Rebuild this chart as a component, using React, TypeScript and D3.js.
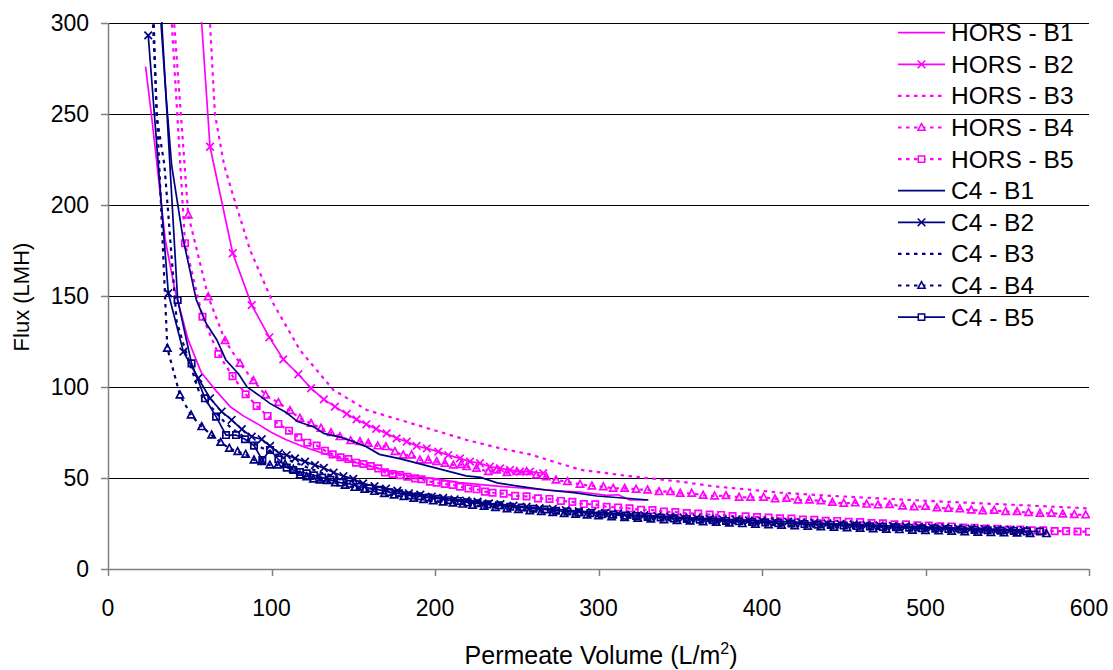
import React from 'react';
import * as d3 from 'd3';

// ---------- data (Permeate Volume L/m2, Flux LMH) ----------
const horsB1V = [23, 26.5, 30, 35, 41, 49, 57, 66, 75, 83, 91, 100, 109, 120, 130, 143, 158, 172, 187, 199, 215, 238, 260, 275, 289, 305, 312, 319, 330];
const horsB1F = [276, 250, 222, 181, 153, 126, 108, 98, 89, 84, 80, 75, 71, 67, 64, 60.5, 57, 53.5, 50.7, 49.8, 47.5, 45.5, 44, 43, 42.3, 40.5, 40.8, 38, 37.9];

const horsB2V = [55, 62.4, 76.3, 87.9, 98.7, 107.2, 116.4, 124.2, 132, 138.8, 146, 152, 158, 164, 170.4, 176.5, 182.7, 188.8, 195, 202, 208.1, 215.3, 221.4, 227.5, 233.6, 239.8, 245.9, 252, 258.1, 266.2];
const horsB2F = [330, 232, 173.5, 145, 127.3, 115.2, 107, 99.3, 93.2, 89.2, 85.2, 82.2, 79.5, 77, 74.5, 71.8, 70, 67.6, 66.3, 64.5, 62.6, 60.8, 59, 58.1, 56.2, 55.3, 54.4, 53.5, 53.5, 52.6];

const horsB3V = [60.5, 62.4, 65.4, 71, 76.6, 87, 101, 117.4, 137.8, 158.2, 178.6, 199, 219.4, 240, 258, 289, 319, 350, 370, 411, 440, 472, 500, 533, 565, 600];
const horsB3F = [330, 300, 250, 222, 205, 175, 146, 120.3, 98.4, 87.4, 81.9, 76.4, 70.9, 66.3, 63, 54.5, 51, 48, 45.5, 42, 40.3, 38.8, 37.5, 36.1, 34.8, 33.3];

const horsB4V = [38, 49.1, 61.3, 71.6, 80.7, 88.9, 96.4, 104.2, 111.3, 117.4, 124.2, 130.3, 136.4, 141.9, 148.4, 154.1, 159.2, 165, 170, 175.5, 180.6, 185.7, 190.8, 195.9, 201, 206.1, 211.2, 216, 219.4, 225.4, 232.6, 237.7, 244, 250, 256, 262, 268, 274, 281, 288.7, 296, 303, 309, 316, 323, 330, 337, 344, 350, 357, 364, 371, 378, 386, 393, 401, 408, 415, 422, 429, 436, 443, 450, 457, 464, 471, 478, 486, 493, 500, 507, 514, 521, 528, 535, 542, 549, 556, 563, 570, 577, 584, 591, 598];
const horsB4F = [330, 194.5, 149.6, 125.5, 113, 103.5, 95.6, 91.4, 87, 82.8, 80, 77.3, 74.9, 72.7, 70.5, 70, 69.1, 67.6, 67.2, 64.5, 62.6, 62.6, 59.9, 59.9, 59, 58.1, 57.1, 57.4, 56.2, 55.3, 53.5, 54.4, 53, 53.5, 53.5, 51.6, 50.7, 48.9, 48, 46.5, 45.6, 45.2, 44.3, 44.3, 43.8, 43.4, 42.5, 42.5, 41.6, 41.6, 40.5, 40.1, 40.3, 39.4, 39.4, 39.4, 38.5, 38.8, 37.9, 37.9, 37.5, 36.6, 36.1, 36.3, 35.6, 35.2, 35.4, 34.6, 34.2, 34.4, 33.6, 33.3, 33, 32.4, 32, 32.2, 31.5, 31.5, 31, 30.6, 30.6, 30.2, 29.9, 29.7];

const horsB5V = [37, 47.1, 57.8, 67.5, 76.2, 84.2, 90.9, 97.6, 104.2, 110.7, 116.4, 121.9, 127.6, 132.7, 137.4, 142.2, 147, 151.7, 156.2, 160.7, 165.3, 169.4, 174.1, 178.6, 183.1, 187.8, 191.8, 197, 201, 206, 210.8, 215.3, 220.4, 225.5, 230.6, 235.2, 242, 249, 256, 263, 270, 277, 284, 291, 298, 305, 312, 319, 326, 333, 340, 347, 354, 361, 368, 375, 382, 390, 397, 404, 411, 418, 425, 432, 439, 446, 453, 460, 467, 474, 481, 488, 495, 502, 509, 516, 523, 530, 537, 544, 551, 558, 565, 572, 579, 586, 593, 600];
const horsB5F = [330, 179, 138.6, 118.1, 106, 96, 89.6, 84.1, 79.7, 76, 72.4, 69.4, 67.8, 65, 63, 61.4, 60.4, 58.4, 57.7, 56.6, 55.3, 53.1, 52.2, 51.6, 50.7, 49.8, 49.3, 48, 47.4, 46.7, 46.2, 45.2, 44.3, 43.8, 42.5, 41.9, 41.4, 40.2, 39.9, 38.8, 38.5, 37.4, 36.9, 35.7, 35.5, 34.2, 33.8, 33.3, 32.5, 32.4, 31.5, 31.3, 30.7, 30.4, 29.9, 29.7, 29.1, 28.9, 28.5, 28.3, 27.8, 27.7, 27.2, 27, 26.5, 26.4, 25.9, 25.8, 25.2, 25.1, 24.5, 24.5, 24, 23.9, 23.4, 23.3, 22.8, 22.7, 22.2, 22.1, 21.7, 21.7, 21.2, 21.2, 20.8, 20.8, 20.6, 20.5];

const c4B1V = [32.4, 35.5, 38.9, 46, 54, 60, 66.5, 72, 80, 85, 93, 99, 109, 116, 126, 132, 142, 150, 158, 166, 179, 199, 219, 228, 238, 255, 268, 285, 299, 315, 330.5];
const c4B1F = [300, 260, 222, 181, 148, 135, 126, 115, 107, 100, 95, 91, 86, 81, 78, 74.5, 72.5, 70, 67.2, 63, 60.5, 55.8, 51.2, 50.3, 47.3, 45, 43.4, 42, 40.1, 39, 37.9];

const c4B2V = [24.6, 36.9, 46.1, 55.2, 62.4, 69.5, 75.6, 81.8, 87.9, 94, 99.1, 104.6, 109.3, 114.4, 120.5, 126.6, 132, 138, 144, 150, 156, 163, 170, 177, 184, 191, 198, 205, 212, 219, 226, 233, 240, 248, 256, 264, 272, 280, 288, 296, 304, 312, 320, 328, 336, 344, 352, 360, 368, 376, 384, 392, 400, 408, 416, 424, 432, 440, 448, 456, 464, 472, 480, 488, 496, 504, 512, 520, 528, 536, 544, 552, 560];
const c4B2F = [293.2, 151.5, 119.4, 104.8, 93.8, 86.5, 81.9, 76.8, 72.7, 71.3, 67.6, 63.6, 62.6, 60.8, 59, 57.1, 55.5, 53, 51, 49.5, 47, 45.5, 44.2, 43, 41.6, 40.8, 39.8, 39, 38.3, 37.6, 37, 36, 35.6, 34.8, 34.2, 33.4, 33, 32.3, 31.8, 31.2, 30.8, 30.4, 29.8, 29.6, 29.1, 28.8, 28.3, 28, 27.7, 27.3, 27, 26.7, 26.5, 26.1, 26, 25.6, 25.4, 25, 24.8, 24.5, 24.2, 24, 23.7, 23.5, 23.2, 23, 22.8, 22.5, 22.3, 22.1, 21.8, 21.6, 21.4];

const c4B3V = [27, 29.7, 34.5, 42, 46, 56, 64, 72, 80, 90, 100, 110, 120, 130, 140, 150, 165, 180, 200, 220, 240, 260, 280, 300, 320, 340, 360, 380, 400, 420, 440, 460, 480, 500, 520, 540, 560];
const c4B3F = [330, 249, 222, 136, 124, 96.5, 88, 80, 74.5, 68.5, 64, 60, 56.5, 53, 50.5, 48, 45, 42.5, 39.5, 37.3, 35.4, 33.6, 32, 30.8, 29.6, 28.6, 27.7, 26.8, 26, 25.3, 24.6, 24, 23.4, 22.8, 22.3, 21.8, 21.3];

const c4B4V = [26, 36.3, 44, 50.8, 57.3, 63.4, 68.9, 74.2, 79.3, 84.2, 89.3, 94, 99, 103.8, 108.3, 113.4, 117.4, 121.5, 125.6, 129.7, 134, 139, 145, 151, 157, 163, 169, 175, 181, 187, 193, 199, 205, 211, 217, 223, 230, 237, 244, 251, 258, 265, 272, 279, 286, 293, 300, 308, 316, 324, 332, 340, 348, 356, 364, 372, 380, 388, 396, 404, 412, 420, 428, 436, 444, 452, 460, 468, 476, 484, 492, 500, 508, 516, 524, 532, 540, 548, 556, 564, 574];
const c4B4F = [330, 121.3, 95.6, 84.6, 78.2, 73.6, 69.6, 66.3, 64.5, 63, 59.9, 59, 57.1, 57.1, 57.5, 54.8, 51.6, 50.7, 49.4, 48.9, 48.6, 47.4, 46, 44.8, 43.8, 42.6, 41.4, 40.6, 39.8, 38.8, 38.2, 37.5, 36.8, 36.2, 35.6, 35, 34.4, 33.8, 33.1, 32.6, 32, 31.5, 31, 30.5, 30, 29.6, 29.2, 28.7, 28.3, 27.8, 27.4, 27, 26.6, 26.3, 25.9, 25.6, 25.2, 24.9, 24.6, 24.3, 24, 23.7, 23.4, 23.1, 22.9, 22.6, 22.3, 22.1, 21.8, 21.6, 21.3, 21.1, 20.9, 20.7, 20.4, 20.2, 20, 19.8, 19.7, 19.5, 19.4];

const c4B5V = [31, 42.6, 51.1, 59.3, 66.1, 72.2, 78.3, 83.8, 89.3, 94.4, 99.1, 104.2, 109.3, 113.3, 117.4, 121.5, 126, 131, 136, 142, 148, 154, 160, 166, 172, 178, 184, 190, 196, 202, 208, 214, 220, 226, 232, 239, 246, 253, 260, 267, 274, 281, 288, 295, 302, 309, 316, 323, 330, 338, 346, 354, 362, 370, 378, 386, 394, 402, 410, 418, 426, 434, 442, 450, 458, 466, 474, 482, 490, 498, 506, 514, 522, 530, 538, 546, 554, 562, 570];
const c4B5F = [330, 147.8, 113, 93.8, 83.7, 73.6, 73.6, 71.3, 67.8, 59.9, 65.4, 60.3, 55.7, 54.4, 53.3, 52.6, 51.5, 50.2, 49, 47.5, 46.8, 45.2, 44.4, 43.5, 42.2, 41.6, 40.4, 40, 39.2, 38.6, 37.8, 37.4, 36.6, 36.1, 35.5, 35, 34.2, 33.8, 33.1, 32.7, 32, 31.6, 31.1, 30.7, 30.1, 29.9, 29.3, 29.1, 28.6, 28.3, 27.8, 27.5, 27.1, 26.8, 26.4, 26.2, 25.8, 25.6, 25.2, 25, 24.7, 24.4, 24.2, 23.9, 23.6, 23.4, 23.1, 22.9, 22.7, 22.4, 22.2, 22, 21.7, 21.5, 21.3, 21.1, 20.9, 20.7, 20.6];

const seriesNames = ['HORS - B1', 'HORS - B2', 'HORS - B3', 'HORS - B4', 'HORS - B5', 'C4 - B1', 'C4 - B2', 'C4 - B3', 'C4 - B4', 'C4 - B5'];
const xTicks = [0, 100, 200, 300, 400, 500, 600];
const yTicks = [0, 50, 100, 150, 200, 250, 300];

const MAGENTA = '#FF00FF';
const NAVY = '#000080';

type Marker = 'x' | 'tri' | 'sq' | null;
interface Series { name: string; v: number[]; f: number[]; color: string; dash: string | null; marker: Marker; }

const series: Series[] = [
  { name: seriesNames[0], v: horsB1V, f: horsB1F, color: MAGENTA, dash: null, marker: null },
  { name: seriesNames[1], v: horsB2V, f: horsB2F, color: MAGENTA, dash: null, marker: 'x' },
  { name: seriesNames[2], v: horsB3V, f: horsB3F, color: MAGENTA, dash: '3.5,4.5', marker: null },
  { name: seriesNames[3], v: horsB4V, f: horsB4F, color: MAGENTA, dash: '3.5,4.5', marker: 'tri' },
  { name: seriesNames[4], v: horsB5V, f: horsB5F, color: MAGENTA, dash: '3.5,4.5', marker: 'sq' },
  { name: seriesNames[5], v: c4B1V, f: c4B1F, color: NAVY, dash: null, marker: null },
  { name: seriesNames[6], v: c4B2V, f: c4B2F, color: NAVY, dash: null, marker: 'x' },
  { name: seriesNames[7], v: c4B3V, f: c4B3F, color: NAVY, dash: '3.5,4.5', marker: null },
  { name: seriesNames[8], v: c4B4V, f: c4B4F, color: NAVY, dash: '3.5,4.5', marker: 'tri' },
  { name: seriesNames[9], v: c4B5V, f: c4B5F, color: NAVY, dash: null, marker: 'sq' },
];

const markerPath = (m: Marker): string => {
  if (m === 'x') return 'M-3.8,-3.8L3.8,3.8M-3.8,3.8L3.8,-3.8';
  if (m === 'tri') return 'M0,-3.9L3.6,2.8L-3.6,2.8Z';
  if (m === 'sq') return 'M-3.2,-3.2H3.2V3.2H-3.2Z';
  return '';
};

const FONT = '"Liberation Sans", Arial, sans-serif';

export default function App() {
  const W = 1113, H = 670;
  const L = 108, R = 1089, T = 23, B = 569;
  const x = d3.scaleLinear().domain([0, 600]).range([L, R]);
  const y = d3.scaleLinear().domain([0, 300]).range([B, T]);
  const line = d3.line<[number, number]>().x(d => x(d[0])).y(d => y(d[1]));

  const legendX0 = 898, legendX1 = 945, legendTextX = 951, legendY0 = 32.7, legendDY = 31.6;

  return (
    <div style={{ position: 'absolute', left: 0, top: 0, width: W, height: H, background: '#fff' }}>
      <svg width={W} height={H} style={{ display: 'block', fontFamily: FONT }}>
        <defs>
          <clipPath id="plotClip">
            <rect x={L} y={T - 1} width={R - L + 1} height={B - T + 2} />
          </clipPath>
        </defs>
        {/* gridlines */}
        {yTicks.filter(t => t > 0).map(t => (
          <line key={'g' + t} x1={L} x2={R} y1={Math.round(y(t)) + 0.5} y2={Math.round(y(t)) + 0.5} stroke="#000" strokeWidth={1} />
        ))}
        {/* axes */}
        <line x1={L + 0.5} x2={L + 0.5} y1={T} y2={B} stroke="#808080" strokeWidth={1.5} />
        <line x1={L} x2={R} y1={B + 0.5} y2={B + 0.5} stroke="#808080" strokeWidth={1.5} />
        {yTicks.map(t => (
          <line key={'yt' + t} x1={L - 7} x2={L} y1={Math.round(y(t)) + 0.5} y2={Math.round(y(t)) + 0.5} stroke="#808080" strokeWidth={1.5} />
        ))}
        {xTicks.map(t => (
          <line key={'xt' + t} x1={Math.round(x(t)) + 0.5} x2={Math.round(x(t)) + 0.5} y1={B} y2={B + 7} stroke="#808080" strokeWidth={1.5} />
        ))}
        {/* tick labels */}
        {yTicks.map(t => (
          <text key={'yl' + t} x={L - 19} y={y(t) + 8} textAnchor="end" fontSize={23} fill="#000">{t}</text>
        ))}
        {xTicks.map(t => (
          <text key={'xl' + t} x={x(t)} y={616} textAnchor="middle" fontSize={23} fill="#000">{t}</text>
        ))}
        {/* axis titles */}
        <text transform="translate(29,297) rotate(-90)" textAnchor="middle" fontSize={22} fill="#000">Flux (LMH)</text>
        <text x={601} y={664} textAnchor="middle" fontSize={25} fill="#000">
          Permeate Volume (L/m<tspan dy={-10} fontSize={16}>2</tspan><tspan dy={10}>)</tspan>
        </text>
        {/* series */}
        <g clipPath="url(#plotClip)">
          {series.map(s => {
            const pts: [number, number][] = s.v.map((v, i) => [v, s.f[i]]);
            return (
              <g key={s.name}>
                <path d={line(pts) || ''} fill="none" stroke={s.color} strokeWidth={s.dash ? 2.2 : 1.7}
                  strokeDasharray={s.dash || undefined} />
                {s.marker && pts.map((p, i) => (
                  <path key={i} d={markerPath(s.marker)} transform={`translate(${x(p[0])},${y(p[1])})`}
                    fill="none" stroke={s.color} strokeWidth={1.7} />
                ))}
              </g>
            );
          })}
        </g>
        {/* legend */}
        {series.map((s, i) => {
          const ly = legendY0 + i * legendDY;
          return (
            <g key={'lg' + s.name}>
              <line x1={legendX0} x2={legendX1} y1={ly} y2={ly} stroke={s.color} strokeWidth={s.dash ? 2.2 : 1.8}
                strokeDasharray={s.dash || undefined} />
              {s.marker && (
                <path d={markerPath(s.marker)} transform={`translate(${(legendX0 + legendX1) / 2},${ly})`}
                  fill="#fff" stroke={s.color} strokeWidth={1.5} />
              )}
              <text x={legendTextX} y={ly + 8.5} fontSize={24.5} fill="#000">{s.name}</text>
            </g>
          );
        })}
      </svg>
    </div>
  );
}
